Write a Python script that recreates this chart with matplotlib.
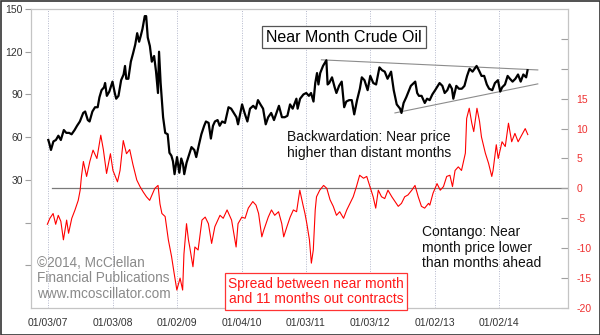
import matplotlib
matplotlib.use('Agg')
import matplotlib.pyplot as plt
import pandas as pd
from matplotlib.ticker import FixedLocator, FuncFormatter
from matplotlib.patches import Rectangle

plt.rcParams['font.family'] = ['Liberation Sans', 'DejaVu Sans']

# ---------------- data ----------------
crude_dates = [
    "2007-01-03", "2007-01-10", "2007-01-18", "2007-02-01", "2007-02-15", "2007-03-01", "2007-03-15",
    "2007-04-01", "2007-04-15", "2007-05-01", "2007-05-15", "2007-06-01", "2007-06-15", "2007-07-01",
    "2007-07-20", "2007-07-31", "2007-08-15", "2007-08-25", "2007-09-10", "2007-09-25", "2007-10-10",
    "2007-10-20", "2007-11-01", "2007-11-15", "2007-11-21", "2007-12-01", "2007-12-15", "2008-01-02",
    "2008-01-15", "2008-01-23", "2008-02-05", "2008-02-20", "2008-03-05", "2008-03-13", "2008-03-20",
    "2008-04-01", "2008-04-15", "2008-04-28", "2008-05-10", "2008-05-21", "2008-06-01", "2008-06-10",
    "2008-06-20", "2008-07-03", "2008-07-11", "2008-07-20", "2008-08-01", "2008-08-12", "2008-08-25",
    "2008-09-05", "2008-09-16", "2008-09-22", "2008-10-01", "2008-10-15", "2008-10-27", "2008-11-10",
    "2008-11-20", "2008-12-01", "2008-12-10", "2008-12-19", "2009-01-02", "2009-01-15", "2009-01-26",
    "2009-02-05", "2009-02-12", "2009-02-25", "2009-03-10", "2009-03-25", "2009-04-10", "2009-04-21",
    "2009-05-05", "2009-05-20", "2009-06-05", "2009-06-15", "2009-06-30", "2009-07-13", "2009-07-25",
    "2009-08-05", "2009-08-20", "2009-09-01", "2009-09-15", "2009-10-01", "2009-10-21", "2009-11-05",
    "2009-11-20", "2009-12-05", "2009-12-14", "2010-01-06", "2010-01-20", "2010-02-05", "2010-02-20",
    "2010-03-10", "2010-03-25", "2010-04-06", "2010-04-20", "2010-05-05", "2010-05-20", "2010-06-03",
    "2010-06-20", "2010-07-06", "2010-07-20", "2010-08-03", "2010-08-20", "2010-09-05", "2010-09-20",
    "2010-10-05", "2010-10-20", "2010-11-10", "2010-11-17", "2010-12-01", "2010-12-20", "2011-01-05",
    "2011-01-20", "2011-02-01", "2011-02-15", "2011-02-25", "2011-03-07", "2011-03-15", "2011-03-25",
    "2011-04-10", "2011-04-29", "2011-05-06", "2011-05-15", "2011-05-31", "2011-06-15", "2011-06-25",
    "2011-07-10", "2011-07-25", "2011-08-08", "2011-08-20", "2011-09-05", "2011-09-20", "2011-10-04",
    "2011-10-20", "2011-11-05", "2011-11-16", "2011-12-01", "2011-12-19", "2012-01-03", "2012-01-20",
    "2012-02-05", "2012-02-24", "2012-03-10", "2012-03-25", "2012-04-10", "2012-04-30", "2012-05-15",
    "2012-06-01", "2012-06-20", "2012-06-28", "2012-07-10", "2012-07-25", "2012-08-10", "2012-08-20",
    "2012-09-14", "2012-09-25", "2012-10-05", "2012-10-20", "2012-11-07", "2012-11-20", "2012-12-05",
    "2012-12-20", "2013-01-05", "2013-01-30", "2013-02-15", "2013-02-28", "2013-03-15", "2013-03-28",
    "2013-04-10", "2013-04-18", "2013-05-05", "2013-05-20", "2013-06-05", "2013-06-20", "2013-07-05",
    "2013-07-19", "2013-08-05", "2013-08-28", "2013-09-10", "2013-09-25", "2013-10-10", "2013-10-25",
    "2013-11-07", "2013-11-25", "2013-12-10", "2013-12-27", "2014-01-09", "2014-01-20", "2014-02-05",
    "2014-02-20", "2014-03-05", "2014-03-20", "2014-04-05", "2014-04-20", "2014-05-05", "2014-05-20",
    "2014-06-05", "2014-06-13",
]
crude_values = [
    58, 55, 51, 57, 58, 61, 58,
    65, 63, 63, 62, 65, 68, 71,
    77, 78, 72, 71, 78, 81, 81,
    88, 93, 95, 98, 89, 92, 99,
    91, 87, 89, 100, 104, 110, 101,
    101, 113, 119, 125, 133, 127, 131,
    136, 145, 145, 130, 124, 113, 117,
    106, 91, 120, 98, 74, 63, 62,
    49, 47, 43, 34, 46, 35, 45,
    41, 34, 42, 47, 53, 51, 46,
    54, 62, 68, 71, 70, 59, 68,
    71, 72, 68, 71, 70, 81, 80,
    77, 74, 69, 83, 77, 71, 80,
    82, 80, 86, 83, 80, 69, 74,
    77, 72, 77, 82, 74, 74, 75,
    83, 80, 87, 80, 87, 90, 91,
    89, 91, 85, 98, 105, 97, 105,
    110, 114, 97, 98, 102, 95, 91,
    96, 99, 81, 85, 86, 86, 76,
    86, 94, 102, 100, 93, 103, 98,
    97, 109, 107, 106, 101, 106, 93,
    83, 80, 77, 84, 88, 93, 96,
    99, 91, 89, 89, 84, 87, 86,
    90, 93, 98, 96, 91, 93, 97,
    94, 87, 96, 94, 94, 96, 103,
    108, 106, 110, 107, 103, 103, 97,
    94, 93, 98, 100, 92, 95, 97,
    103, 101, 99, 101, 104, 99, 104,
    102, 107,
]

spread_years = [
    2006.99, 2007.03, 2007.08, 2007.12, 2007.16, 2007.20, 2007.24, 2007.29, 2007.32, 2007.37,
    2007.42, 2007.47, 2007.50, 2007.52, 2007.55, 2007.60, 2007.65, 2007.70, 2007.76, 2007.82,
    2007.86, 2007.91, 2007.97, 2008.01, 2008.08, 2008.12, 2008.17, 2008.22, 2008.27, 2008.32,
    2008.38, 2008.43, 2008.48, 2008.53, 2008.58, 2008.66, 2008.71, 2008.74, 2008.77, 2008.82,
    2008.87, 2008.92, 2008.96, 2009.00, 2009.05, 2009.09, 2009.11, 2009.15, 2009.18, 2009.20,
    2009.25, 2009.28, 2009.33, 2009.39, 2009.44, 2009.49, 2009.54, 2009.59, 2009.67, 2009.72,
    2009.78, 2009.85, 2009.92, 2009.95, 2010.01, 2010.06, 2010.11, 2010.18, 2010.23, 2010.27,
    2010.32, 2010.35, 2010.42, 2010.47, 2010.52, 2010.58, 2010.63, 2010.66, 2010.71, 2010.76,
    2010.81, 2010.86, 2010.91, 2010.96, 2010.99, 2011.02, 2011.06, 2011.09, 2011.12, 2011.15,
    2011.17, 2011.22, 2011.28, 2011.33, 2011.38, 2011.43, 2011.48, 2011.53, 2011.59, 2011.64,
    2011.69, 2011.74, 2011.79, 2011.84, 2011.90, 2011.95, 2012.00, 2012.05, 2012.09, 2012.13,
    2012.18, 2012.23, 2012.28, 2012.34, 2012.39, 2012.44, 2012.49, 2012.54, 2012.59, 2012.65,
    2012.70, 2012.75, 2012.80, 2012.85, 2012.91, 2012.93, 2012.98, 2013.04, 2013.09, 2013.14,
    2013.19, 2013.24, 2013.28, 2013.32, 2013.37, 2013.42, 2013.48, 2013.50, 2013.54, 2013.58,
    2013.61, 2013.66, 2013.70, 2013.73, 2013.79, 2013.84, 2013.89, 2013.91, 2013.96, 2013.99,
    2014.05, 2014.10, 2014.15, 2014.20, 2014.25, 2014.30, 2014.36, 2014.41, 2014.45,
]
spread_values = [
    -6.0, -5.0, -4.2, -6.0, -4.5, -5.5, -8.6, -5.3, -7.5, -5.0,
    -3.6, -2.0, -0.3, 2.0, 4.5, 2.0, 4.5, 6.4, 5.0, 8.9,
    6.5, 2.5, 5.8, 3.0, 1.1, 3.0, 8.0, 5.8, 6.5, 4.0,
    1.4, 0.3, -0.6, -1.4, -2.0, 0.0, 0.5, -2.6, -4.2, -4.7,
    -8.6, -11.4, -14.2, -17.0, -15.0, -17.0, -11.0, -5.9, -8.6, -9.8,
    -13.1, -9.8, -10.3, -5.3, -4.8, -5.9, -9.2, -6.4, -4.5, -5.0,
    -3.6, -5.3, -9.8, -5.9, -4.8, -5.0, -3.3, -2.2, -2.8, -4.2,
    -8.1, -7.0, -4.8, -3.6, -4.5, -3.9, -5.9, -8.1, -6.4, -4.8,
    -3.6, -3.9, -0.3, -2.8, -4.2, -5.9, -8.6, -12.5, -10.3, -3.6,
    -1.4, -0.3, 0.5, 0.0, -1.9, -3.0, -4.5, -3.9, -5.0, -3.6,
    -2.5, -1.4, 0.3, 2.2, 1.7, 2.0, 0.3, -1.4, -3.3, -0.3,
    -1.4, -1.7, -0.3, -1.4, -2.2, -3.0, -2.5, -1.4, -1.1, -0.3,
    0.5, -1.4, -3.0, -3.3, -2.5, -2.8, -0.8, 0.8, -0.3, 0.3,
    2.0, 2.2, 0.3, 3.0, 3.6, 3.0, 5.9, 11.7, 13.4, 10.9,
    9.5, 13.4, 11.2, 8.6, 5.9, 4.2, 2.0, 3.0, 7.3, 5.0,
    7.8, 7.0, 10.9, 7.8, 9.2, 7.8, 9.0, 10.0, 9.0,
]

tick_dates = ["2007-01-03", "2008-01-03", "2009-01-02", "2010-01-04",
              "2011-01-03", "2012-01-03", "2013-01-02", "2014-01-02"]
tick_labels = ["01/03/07", "01/03/08", "01/02/09", "01/04/10",
               "01/03/11", "01/03/12", "01/02/13", "01/02/14"]

price_ticks = [-30, 0, 30, 60, 90, 120, 150]
spread_ticks = [-20, -15, -10, -5, 0, 5, 10, 15, 20, 25]

upper_trend_dates = ["2011-04-01", "2014-08-10"]
upper_trend_values = [114.3, 107.2]
lower_trend_dates = ["2012-05-22", "2014-08-10"]
lower_trend_values = [77.0, 97.4]


def yr2dt(y):
    base = pd.Timestamp(int(y), 1, 1)
    return base + pd.Timedelta(days=(y - int(y)) * 365.25)


crude_x = pd.to_datetime(crude_dates)
spread_x = [yr2dt(v) for v in spread_years]

# ---------------- figure ----------------
W, H = 600, 335
fig = plt.figure(figsize=(6, 3.35), dpi=100)
fig.patch.set_facecolor('white')
fig.patches.append(Rectangle((0.5 / W, 0.5 / H), 1 - 1.0 / W, 1 - 1.0 / H,
                             transform=fig.transFigure, fill=False,
                             edgecolor='#333333', linewidth=1.2))

ax = fig.add_axes([31 / W, 1 - 308 / H, 537 / W, 299 / H])
ax2 = ax.twinx()

ax.set_xlim(yr2dt(2006.736), yr2dt(2015.075))
ax.set_ylim(-60, 150)
ax2.set_ylim(-20, 30)

for a in (ax, ax2):
    for s in a.spines.values():
        s.set_color('#c4c4c4')
        s.set_linewidth(0.8)

# x ticks / grid
ax.xaxis.set_major_locator(FixedLocator(list(pd.to_datetime(tick_dates).map(
    lambda d: matplotlib.dates.date2num(d)))))
ax.set_xticklabels(tick_labels)
ax.tick_params(axis='x', length=0, pad=7, labelsize=7.5, labelcolor='#333333')
ax.grid(axis='x', linestyle=(0, (1, 1.5)), color='#b4b8cc', linewidth=0.7)

# left axis
ax.yaxis.set_major_locator(FixedLocator(price_ticks))
ax.yaxis.set_major_formatter(FuncFormatter(lambda v, p: f"{int(v)}" if v > 0 else ""))
ax.tick_params(axis='y', direction='out', length=4, width=0.8, color='#a0a0a0',
               pad=2, labelsize=7.5, labelcolor='#333333')

# right axis
ax2.yaxis.set_major_locator(FixedLocator(spread_ticks))
ax2.yaxis.set_major_formatter(FuncFormatter(lambda v, p: f"{int(v)}" if v <= 15 else ""))
ax2.tick_params(axis='y', direction='in', length=5, width=0.8, color='#a0a0a0',
                pad=6, labelsize=7.5, labelcolor='#ee3030')

# zero line of spread
ax2.axhline(0, xmin=(52 - 31) / 537, xmax=1, color='#7a7a7a', linewidth=0.9, zorder=1)

# trend lines
ax.plot(pd.to_datetime(upper_trend_dates), upper_trend_values, color='#8c8c8c', linewidth=0.8, zorder=2)
ax.plot(pd.to_datetime(lower_trend_dates), lower_trend_values, color='#8c8c8c', linewidth=0.8, zorder=2)

# series
ax.plot(crude_x, crude_values, color='black', linewidth=1.6, zorder=3)
ax2.plot(spread_x, spread_values, color='#ff0000', linewidth=0.8, zorder=3)


def fx(px):
    return px / W


def fy(py):
    return 1 - py / H


# annotations
fig.text(fx(344), fy(37), "Near Month Crude Oil", fontsize=11.5, color='black',
         ha='center', va='center',
         bbox=dict(boxstyle='square,pad=0.25', facecolor='white', edgecolor='#555555', linewidth=0.9))

fig.text(fx(287), fy(130), "Backwardation: Near price\nhigher than distant months",
         fontsize=10, color='#111111', ha='left', va='top', linespacing=1.15)

fig.text(fx(422), fy(225), "Contango: Near\nmonth price lower\nthan months ahead",
         fontsize=10, color='#111111', ha='left', va='top', linespacing=1.15)

fig.text(fx(37), fy(256), "\u00a92014, McClellan\nFinancial Publications\nwww.mcoscillator.com",
         fontsize=9.8, color='#8a8a8a', ha='left', va='top', linespacing=1.12)

fig.text(fx(316), fy(291.5), "Spread between near month\nand 11 months out contracts",
         fontsize=10, color='#ff1a1a', ha='center', va='center', linespacing=1.15,
         bbox=dict(boxstyle='square,pad=0.25', facecolor='white', edgecolor='#ff3333', linewidth=0.9))

fig.savefig('out.png', dpi=100, facecolor=fig.get_facecolor())
